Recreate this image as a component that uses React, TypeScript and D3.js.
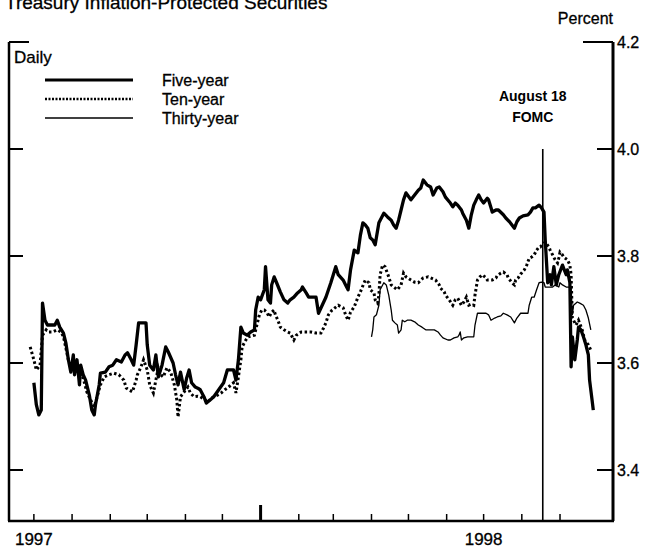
import React from "react";
import * as d3 from "d3";

const W = 657;
const H = 550;

const yTicks = [3.4, 3.6, 3.8, 4.0, 4.2];
const yearLabels = [
  { label: "1997", date: "1997-07-01" },
  { label: "1998", date: "1998-07-01" },
];
const legendItems = ["Five-year", "Ten-year", "Thirty-year"];
const fomcDate = "1998-08-18";

const fiveYear: [string, number][] = [
  ["1997-07-01", 3.563], ["1997-07-03", 3.522], ["1997-07-05", 3.503], ["1997-07-07", 3.512],
  ["1997-07-08", 3.712], ["1997-07-10", 3.68], ["1997-07-12", 3.671], ["1997-07-15", 3.671],
  ["1997-07-18", 3.671], ["1997-07-20", 3.68], ["1997-07-22", 3.667], ["1997-07-25", 3.656],
  ["1997-07-27", 3.637], ["1997-07-29", 3.606], ["1997-07-31", 3.583], ["1997-08-02", 3.615],
  ["1997-08-03", 3.578], ["1997-08-05", 3.606], ["1997-08-07", 3.559], ["1997-08-08", 3.596],
  ["1997-08-10", 3.578], ["1997-08-12", 3.568], ["1997-08-15", 3.54], ["1997-08-17", 3.512],
  ["1997-08-19", 3.503], ["1997-08-20", 3.522], ["1997-08-23", 3.559], ["1997-08-24", 3.581],
  ["1997-08-28", 3.583], ["1997-08-31", 3.593], ["1997-09-03", 3.596], ["1997-09-06", 3.606],
  ["1997-09-10", 3.602], ["1997-09-13", 3.615], ["1997-09-15", 3.619], ["1997-09-18", 3.606],
  ["1997-09-20", 3.596], ["1997-09-22", 3.634], ["1997-09-24", 3.675], ["1997-09-27", 3.675],
  ["1997-09-30", 3.675], ["1997-10-01", 3.634], ["1997-10-03", 3.596], ["1997-10-06", 3.587],
  ["1997-10-08", 3.615], ["1997-10-10", 3.574], ["1997-10-13", 3.596], ["1997-10-16", 3.63],
  ["1997-10-18", 3.621], ["1997-10-22", 3.6], ["1997-10-24", 3.578], ["1997-10-26", 3.559],
  ["1997-10-28", 3.583], ["1997-10-31", 3.55], ["1997-11-02", 3.572], ["1997-11-04", 3.587],
  ["1997-11-06", 3.563], ["1997-11-09", 3.555], ["1997-11-11", 3.553], ["1997-11-13", 3.55],
  ["1997-11-16", 3.537], ["1997-11-18", 3.525], ["1997-11-21", 3.531], ["1997-11-24", 3.537],
  ["1997-11-28", 3.55], ["1997-12-02", 3.563], ["1997-12-05", 3.587], ["1997-12-10", 3.587],
  ["1997-12-12", 3.568], ["1997-12-14", 3.606], ["1997-12-16", 3.667], ["1997-12-18", 3.656],
  ["1997-12-21", 3.652], ["1997-12-24", 3.658], ["1997-12-27", 3.662], ["1997-12-28", 3.699],
  ["1997-12-30", 3.723], ["1998-01-01", 3.718], ["1998-01-04", 3.737], ["1998-01-05", 3.78],
  ["1998-01-07", 3.718], ["1998-01-09", 3.712], ["1998-01-10", 3.746], ["1998-01-12", 3.761],
  ["1998-01-14", 3.75], ["1998-01-17", 3.733], ["1998-01-20", 3.718], ["1998-01-23", 3.712],
  ["1998-01-25", 3.718], ["1998-01-28", 3.723], ["1998-01-31", 3.731], ["1998-02-03", 3.737],
  ["1998-02-04", 3.742], ["1998-02-07", 3.731], ["1998-02-09", 3.723], ["1998-02-12", 3.723],
  ["1998-02-15", 3.723], ["1998-02-17", 3.693], ["1998-02-20", 3.708], ["1998-02-23", 3.723],
  ["1998-02-27", 3.75], ["1998-03-03", 3.78], ["1998-03-05", 3.765], ["1998-03-09", 3.755],
  ["1998-03-11", 3.746], ["1998-03-13", 3.737], ["1998-03-15", 3.774], ["1998-03-18", 3.811],
  ["1998-03-21", 3.806], ["1998-03-23", 3.839], ["1998-03-25", 3.862], ["1998-03-27", 3.858],
  ["1998-03-29", 3.852], ["1998-03-31", 3.834], ["1998-04-02", 3.83], ["1998-04-04", 3.821],
  ["1998-04-07", 3.862], ["1998-04-11", 3.88], ["1998-04-14", 3.873], ["1998-04-17", 3.867],
  ["1998-04-19", 3.858], ["1998-04-21", 3.852], ["1998-04-23", 3.867], ["1998-04-25", 3.886],
  ["1998-04-27", 3.905], ["1998-04-29", 3.918], ["1998-05-03", 3.905], ["1998-05-06", 3.914],
  ["1998-05-09", 3.923], ["1998-05-11", 3.927], ["1998-05-13", 3.942], ["1998-05-16", 3.933],
  ["1998-05-19", 3.929], ["1998-05-21", 3.914], ["1998-05-24", 3.927], ["1998-05-26", 3.929],
  ["1998-05-29", 3.92], ["1998-05-31", 3.91], ["1998-06-04", 3.899], ["1998-06-06", 3.892],
  ["1998-06-08", 3.899], ["1998-06-10", 3.895], ["1998-06-13", 3.886], ["1998-06-14", 3.88],
  ["1998-06-17", 3.867], ["1998-06-19", 3.852], ["1998-06-21", 3.877], ["1998-06-23", 3.895],
  ["1998-06-25", 3.905], ["1998-06-27", 3.914], ["1998-06-29", 3.905], ["1998-07-01", 3.899],
  ["1998-07-04", 3.908], ["1998-07-05", 3.905], ["1998-07-07", 3.89], ["1998-07-08", 3.882],
  ["1998-07-11", 3.886], ["1998-07-13", 3.886], ["1998-07-17", 3.877], ["1998-07-19", 3.871],
  ["1998-07-22", 3.864], ["1998-07-26", 3.852], ["1998-07-28", 3.864], ["1998-07-30", 3.871],
  ["1998-08-02", 3.875], ["1998-08-06", 3.877], ["1998-08-08", 3.882], ["1998-08-10", 3.89],
  ["1998-08-12", 3.89], ["1998-08-15", 3.895], ["1998-08-17", 3.89], ["1998-08-19", 3.882],
  ["1998-08-20", 3.83], ["1998-08-22", 3.75], ["1998-08-24", 3.765], ["1998-08-25", 3.746],
  ["1998-08-27", 3.78], ["1998-08-29", 3.746], ["1998-08-31", 3.765], ["1998-09-03", 3.783],
  ["1998-09-06", 3.765], ["1998-09-07", 3.774], ["1998-09-09", 3.75], ["1998-09-10", 3.593],
  ["1998-09-11", 3.649], ["1998-09-13", 3.606], ["1998-09-15", 3.643], ["1998-09-16", 3.667],
  ["1998-09-18", 3.662], ["1998-09-20", 3.649], ["1998-09-22", 3.634], ["1998-09-24", 3.615],
  ["1998-09-25", 3.568], ["1998-09-27", 3.531], ["1998-09-28", 3.512],
];

const tenYear: [string, number][] = [
  ["1997-06-28", 3.63], ["1997-07-01", 3.606], ["1997-07-03", 3.587], ["1997-07-06", 3.596],
  ["1997-07-08", 3.652], ["1997-07-11", 3.662], ["1997-07-13", 3.658], ["1997-07-16", 3.658],
  ["1997-07-20", 3.662], ["1997-07-23", 3.658], ["1997-07-25", 3.649], ["1997-07-29", 3.606],
  ["1997-07-31", 3.591], ["1997-08-04", 3.581], ["1997-08-07", 3.578], ["1997-08-10", 3.572],
  ["1997-08-13", 3.546], ["1997-08-16", 3.531], ["1997-08-19", 3.518], ["1997-08-21", 3.534],
  ["1997-08-24", 3.559], ["1997-08-27", 3.574], ["1997-08-31", 3.578], ["1997-09-04", 3.581],
  ["1997-09-08", 3.578], ["1997-09-12", 3.568], ["1997-09-14", 3.553], ["1997-09-16", 3.55],
  ["1997-09-19", 3.546], ["1997-09-22", 3.568], ["1997-09-23", 3.578], ["1997-09-26", 3.593],
  ["1997-09-28", 3.606], ["1997-10-01", 3.587], ["1997-10-03", 3.559], ["1997-10-06", 3.544],
  ["1997-10-08", 3.568], ["1997-10-10", 3.591], ["1997-10-12", 3.578], ["1997-10-14", 3.574],
  ["1997-10-17", 3.591], ["1997-10-20", 3.583], ["1997-10-23", 3.559], ["1997-10-25", 3.531],
  ["1997-10-26", 3.499], ["1997-10-28", 3.537], ["1997-10-31", 3.546], ["1997-11-03", 3.555],
  ["1997-11-05", 3.544], ["1997-11-08", 3.537], ["1997-11-11", 3.538], ["1997-11-13", 3.537],
  ["1997-11-17", 3.531], ["1997-11-19", 3.527], ["1997-11-22", 3.534], ["1997-11-24", 3.537],
  ["1997-11-27", 3.54], ["1997-11-30", 3.544], ["1997-12-03", 3.55], ["1997-12-05", 3.553],
  ["1997-12-07", 3.557], ["1997-12-10", 3.563], ["1997-12-12", 3.544], ["1997-12-14", 3.574],
  ["1997-12-16", 3.606], ["1997-12-17", 3.63], ["1997-12-20", 3.643], ["1997-12-22", 3.649],
  ["1997-12-27", 3.652], ["1997-12-29", 3.671], ["1997-12-31", 3.69], ["1998-01-02", 3.699],
  ["1998-01-04", 3.699], ["1998-01-06", 3.695], ["1998-01-08", 3.686], ["1998-01-10", 3.695],
  ["1998-01-12", 3.699], ["1998-01-13", 3.69], ["1998-01-15", 3.68], ["1998-01-17", 3.667],
  ["1998-01-20", 3.662], ["1998-01-23", 3.658], ["1998-01-25", 3.656], ["1998-01-28", 3.643],
  ["1998-01-30", 3.652], ["1998-02-03", 3.658], ["1998-02-07", 3.658], ["1998-02-11", 3.658],
  ["1998-02-15", 3.656], ["1998-02-19", 3.656], ["1998-02-21", 3.665], ["1998-02-23", 3.675],
  ["1998-02-25", 3.69], ["1998-02-28", 3.699], ["1998-03-05", 3.708], ["1998-03-09", 3.703],
  ["1998-03-11", 3.69], ["1998-03-13", 3.68], ["1998-03-15", 3.695], ["1998-03-18", 3.705],
  ["1998-03-21", 3.723], ["1998-03-23", 3.733], ["1998-03-26", 3.75], ["1998-03-27", 3.755],
  ["1998-03-30", 3.75], ["1998-03-31", 3.737], ["1998-04-03", 3.731], ["1998-04-04", 3.718],
  ["1998-04-06", 3.712], ["1998-04-07", 3.727], ["1998-04-08", 3.765], ["1998-04-10", 3.783],
  ["1998-04-12", 3.78], ["1998-04-15", 3.761], ["1998-04-17", 3.746], ["1998-04-19", 3.742],
  ["1998-04-22", 3.737], ["1998-04-25", 3.746], ["1998-04-27", 3.768], ["1998-04-29", 3.761],
  ["1998-05-03", 3.755], ["1998-05-06", 3.751], ["1998-05-09", 3.75], ["1998-05-11", 3.755],
  ["1998-05-13", 3.759], ["1998-05-17", 3.761], ["1998-05-21", 3.757], ["1998-05-23", 3.755],
  ["1998-05-26", 3.746], ["1998-05-27", 3.74], ["1998-05-30", 3.733], ["1998-05-31", 3.727],
  ["1998-06-03", 3.718], ["1998-06-06", 3.708], ["1998-06-08", 3.718], ["1998-06-10", 3.721],
  ["1998-06-13", 3.708], ["1998-06-15", 3.714], ["1998-06-17", 3.723], ["1998-06-19", 3.708],
  ["1998-06-21", 3.71], ["1998-06-23", 3.708], ["1998-06-24", 3.727], ["1998-06-26", 3.755],
  ["1998-06-28", 3.761], ["1998-06-30", 3.765], ["1998-07-03", 3.759], ["1998-07-04", 3.755],
  ["1998-07-07", 3.755], ["1998-07-08", 3.755], ["1998-07-11", 3.759], ["1998-07-12", 3.763],
  ["1998-07-15", 3.768], ["1998-07-17", 3.77], ["1998-07-20", 3.765], ["1998-07-21", 3.759],
  ["1998-07-24", 3.75], ["1998-07-26", 3.746], ["1998-07-27", 3.755], ["1998-07-29", 3.759],
  ["1998-07-31", 3.766], ["1998-08-03", 3.774], ["1998-08-05", 3.783], ["1998-08-07", 3.796],
  ["1998-08-09", 3.798], ["1998-08-11", 3.802], ["1998-08-13", 3.811], ["1998-08-15", 3.817],
  ["1998-08-16", 3.817], ["1998-08-19", 3.824], ["1998-08-20", 3.826], ["1998-08-23", 3.817],
  ["1998-08-24", 3.811], ["1998-08-26", 3.802], ["1998-08-28", 3.793], ["1998-08-30", 3.787],
  ["1998-08-31", 3.796], ["1998-09-01", 3.807], ["1998-09-03", 3.802], ["1998-09-04", 3.798],
  ["1998-09-07", 3.793], ["1998-09-09", 3.783], ["1998-09-10", 3.765], ["1998-09-11", 3.684],
  ["1998-09-14", 3.671], ["1998-09-16", 3.68], ["1998-09-19", 3.662], ["1998-09-21", 3.643],
  ["1998-09-24", 3.634], ["1998-09-26", 3.624],
];

const thirtyYear: [string, number][] = [
  ["1998-04-01", 3.649], ["1998-04-02", 3.662], ["1998-04-03", 3.686], ["1998-04-05", 3.69],
  ["1998-04-07", 3.708], ["1998-04-08", 3.737], ["1998-04-11", 3.75], ["1998-04-13", 3.746],
  ["1998-04-15", 3.727], ["1998-04-17", 3.699], ["1998-04-18", 3.68], ["1998-04-20", 3.675],
  ["1998-04-22", 3.671], ["1998-04-23", 3.656], ["1998-04-25", 3.662], ["1998-04-26", 3.68],
  ["1998-04-28", 3.677], ["1998-04-30", 3.68], ["1998-05-03", 3.68], ["1998-05-06", 3.677],
  ["1998-05-09", 3.671], ["1998-05-12", 3.667], ["1998-05-15", 3.662], ["1998-05-19", 3.662],
  ["1998-05-22", 3.662], ["1998-05-25", 3.658], ["1998-05-27", 3.652], ["1998-05-29", 3.647],
  ["1998-06-02", 3.643], ["1998-06-04", 3.643], ["1998-06-07", 3.647], ["1998-06-10", 3.649],
  ["1998-06-11", 3.652], ["1998-06-12", 3.658], ["1998-06-13", 3.643], ["1998-06-15", 3.647],
  ["1998-06-18", 3.649], ["1998-06-20", 3.649], ["1998-06-23", 3.649], ["1998-06-24", 3.671],
  ["1998-06-26", 3.693], ["1998-06-28", 3.693], ["1998-07-03", 3.693], ["1998-07-05", 3.69],
  ["1998-07-07", 3.68], ["1998-07-10", 3.684], ["1998-07-12", 3.686], ["1998-07-15", 3.688],
  ["1998-07-17", 3.693], ["1998-07-20", 3.69], ["1998-07-23", 3.686], ["1998-07-26", 3.675],
  ["1998-07-28", 3.684], ["1998-07-31", 3.693], ["1998-08-03", 3.693], ["1998-08-06", 3.693],
  ["1998-08-07", 3.708], ["1998-08-09", 3.723], ["1998-08-11", 3.723], ["1998-08-13", 3.737],
  ["1998-08-15", 3.75], ["1998-08-17", 3.751], ["1998-08-19", 3.75], ["1998-08-20", 3.742],
  ["1998-08-23", 3.742], ["1998-08-26", 3.742], ["1998-08-28", 3.746], ["1998-08-31", 3.742],
  ["1998-09-01", 3.75], ["1998-09-03", 3.746], ["1998-09-06", 3.742], ["1998-09-08", 3.742],
  ["1998-09-10", 3.742], ["1998-09-11", 3.69], ["1998-09-12", 3.708], ["1998-09-15", 3.714],
  ["1998-09-17", 3.712], ["1998-09-20", 3.708], ["1998-09-22", 3.699], ["1998-09-24", 3.684],
  ["1998-09-26", 3.662],
];

const parse = d3.timeParse("%Y-%m-%d");
const FONT = "'Liberation Sans', Arial, Helvetica, sans-serif";

export default function App() {
  const x = d3
    .scaleTime()
    .domain([new Date(1997, 5, 10), new Date(1998, 9, 14)])
    .range([8, 613]);
  const y = d3.scaleLinear().domain([3.4, 4.2]).range([470, 42]);
  const yBottom = 521;
  const xLeft = 9;
  const xRight = 613;

  const line = d3
    .line<[string, number]>()
    .x((d) => x(parse(d[0]) as Date))
    .y((d) => y(d[1]));

  const months = d3.timeMonth.range(new Date(1997, 6, 1), new Date(1998, 8, 2));
  const fx = x(parse(fomcDate) as Date);

  const legendY = [80, 99, 118];
  const ink = { fill: "#000", stroke: "#000", strokeWidth: 0.3 };

  return (
    <svg
      width={W}
      height={H}
      style={{ position: "absolute", left: 0, top: 0, background: "#fff" }}
      fontFamily={FONT}
    >
      <rect width={W} height={H} fill="#fff" />
      <text x={5} y={9} fontSize={19} {...ink}>
        Treasury Inflation-Protected Securities
      </text>
      <text x={xRight} y={24} fontSize={16} textAnchor="end" {...ink}>
        Percent
      </text>

      {/* frame */}
      <line x1={xLeft} x2={xLeft} y1={y(4.2)} y2={yBottom} stroke="#000" strokeWidth={2.5} />
      <line x1={xRight} x2={xRight} y1={y(4.2)} y2={yBottom} stroke="#000" strokeWidth={3} />
      <line x1={xLeft - 1} x2={xRight + 1} y1={yBottom} y2={yBottom} stroke="#000" strokeWidth={2.5} />

      {yTicks.map((t) => (
        <g key={t}>
          <line
            x1={xLeft}
            x2={xLeft + (t === 4.2 ? 20 : 14)}
            y1={y(t)}
            y2={y(t)}
            stroke="#000"
            strokeWidth={2}
          />
          <line
            x1={xRight}
            x2={xRight - (t === 4.2 ? 30 : 16)}
            y1={y(t)}
            y2={y(t)}
            stroke="#000"
            strokeWidth={2}
          />
          <text x={xRight + 4} y={y(t) + 6} fontSize={16} {...ink}>
            {t.toFixed(1)}
          </text>
        </g>
      ))}

      {months.map((m) => {
        const isYear = m.getMonth() === 0;
        return (
          <line
            key={m.toISOString()}
            x1={x(m)}
            x2={x(m)}
            y1={yBottom}
            y2={yBottom - (isYear ? 16 : 7)}
            stroke="#000"
            strokeWidth={isYear ? 3 : 1.5}
          />
        );
      })}

      {yearLabels.map((yl) => (
        <text
          key={yl.label}
          x={x(parse(yl.date) as Date)}
          y={545}
          fontSize={17}
          textAnchor="middle"
          {...ink}
        >
          {yl.label}
        </text>
      ))}

      {/* FOMC marker */}
      <line x1={fx} x2={fx} y1={y(4.0)} y2={yBottom} stroke="#000" strokeWidth={1.6} />
      <text x={fx - 10} y={101} fontSize={14} fontWeight="bold" textAnchor="middle" fill="#000">
        August 18
      </text>
      <text x={fx - 10} y={122} fontSize={14} fontWeight="bold" textAnchor="middle" fill="#000">
        FOMC
      </text>

      {/* series */}
      <path d={line(thirtyYear) || ""} fill="none" stroke="#000" strokeWidth={1.3} strokeLinejoin="round" />
      <path
        d={line(tenYear) || ""}
        fill="none"
        stroke="#000"
        strokeWidth={3}
        strokeDasharray="2.5,2.5"
      />
      <path d={line(fiveYear) || ""} fill="none" stroke="#000" strokeWidth={3.3} strokeLinejoin="round" />

      {/* legend */}
      <text x={14} y={63} fontSize={17} {...ink}>
        Daily
      </text>
      {legendItems.map((name, i) => (
        <g key={name}>
          <line
            x1={45}
            x2={133}
            y1={legendY[i]}
            y2={legendY[i]}
            stroke="#000"
            strokeWidth={i === 0 ? 3 : i === 1 ? 2.5 : 1.3}
            strokeDasharray={i === 1 ? "2,1.5" : undefined}
          />
          <text x={162} y={legendY[i] + 6} fontSize={16} {...ink}>
            {name}
          </text>
        </g>
      ))}
    </svg>
  );
}
